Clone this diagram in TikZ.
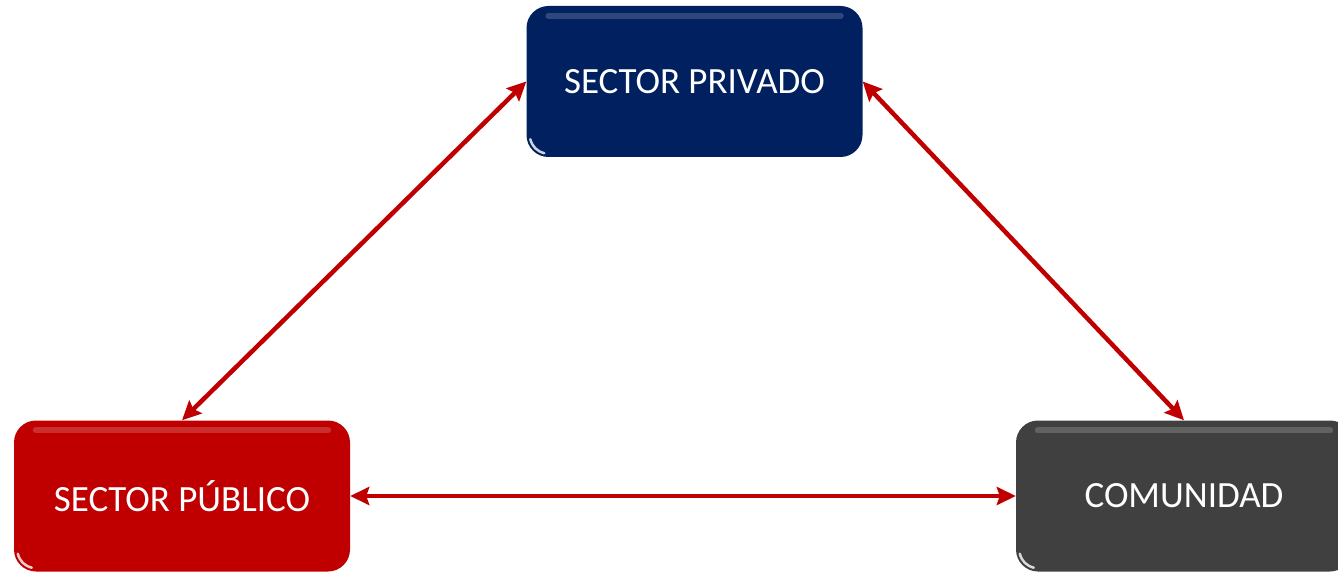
\documentclass[tikz,border=0pt]{standalone}
\usepackage{fontspec}
\setmainfont{Carlito}
\usetikzlibrary{arrows.meta,positioning}
\definecolor{navy}{HTML}{002060}
\definecolor{rojo}{HTML}{C00000}
\definecolor{gris}{HTML}{404040}

\begin{document}
\begin{tikzpicture}[x=1pt,y=-1pt,>={Stealth[length=19pt,width=18pt,inset=3pt]},
    box/.style={rounded corners=22pt,minimum width=336pt,minimum height=151pt,inner sep=0pt,
      text=white,font=\fontsize{37}{42}\selectfont}]
        \useasboundingbox (0,0) rectangle (1338,572);
        \clip (0,0) rectangle (1338,572);

        % Boxes
        \node[box,fill=navy] (privado) at (694.5,81.5) {SECTOR PRIVADO};
        \node[box,fill=rojo] (publico) at (182,496) {SECTOR PÚBLICO};
        \node[box,fill=gris] (comunidad) at (1184,496) {COMUNIDAD};

        % Gloss
        \foreach \n in {privado,publico,comunidad} {
          \draw[white,opacity=0.18,line width=6pt,line cap=round] ([shift={(22pt,-10pt)}]\n.north west) -- ([shift={(-22pt,-10pt)}]\n.north east);
          \draw[white,opacity=0.8,line width=2.5pt,line cap=round] ([shift={(4pt,18pt)}]\n.south west) to[bend right] ([shift={(18pt,4pt)}]\n.south west);
        }

        % Arrows
        \draw[<->,line width=4.5pt,rojo] (privado.west) -- (publico.north);
        \draw[<->,line width=4.5pt,rojo] (privado.east) -- (comunidad.north);
        \draw[<->,line width=4.5pt,rojo] (publico.east) -- (comunidad.west);
\end{tikzpicture}
\end{document}
